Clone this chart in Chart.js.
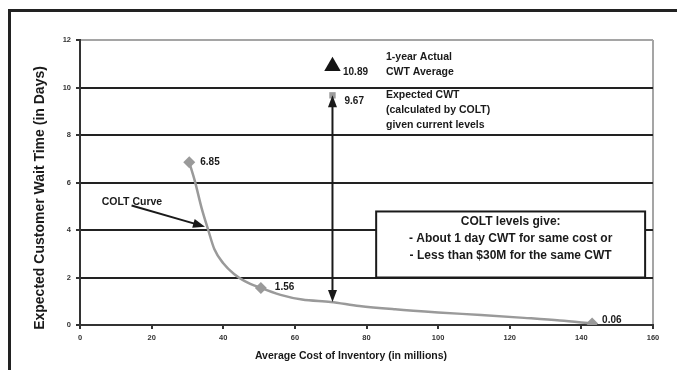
<!DOCTYPE html>
<html>
<head>
<meta charset="utf-8">
<script src="https://cdn.jsdelivr.net/npm/chart.js@4"></script>
<style>
  html, body { margin: 0; padding: 0; background: #fff; }
  canvas { display: block; }
</style>
</head>
<body>
<canvas id="colt" width="677" height="370"></canvas>
<script>
// COLT curve: average inventory cost (millions) vs expected customer wait time (days)
const costM   = [30.5, 32, 34, 35.8, 37.5, 40, 43, 46, 50.5, 56, 62, 70, 78, 88, 100, 112, 124, 134, 143];
const cwtDays = [6.85, 6.1, 4.9, 4.0, 3.2, 2.6, 2.15, 1.85, 1.56, 1.27, 1.07, 0.97, 0.8, 0.66, 0.53, 0.42, 0.3, 0.19, 0.06];

// Labelled points on the curve
const markedCost = [30.5, 50.5, 143];
const markedCwt  = [6.85, 1.56, 0.06];

// Current operating level
const currentCost = 70.5;
const actualCwt   = 10.89;   // 1-year actual CWT average
const expectedCwt = 9.67;    // expected CWT from COLT at current levels

// Axis ticks
const xTicks = [0, 20, 40, 60, 80, 100, 120, 140, 160];
const yTicks = [0, 2, 4, 6, 8, 10, 12];

const FONT = '"Liberation Sans", Arial, Helvetica, sans-serif';
const INK = '#1a1a1a';
const CURVE = '#9a9a9a';

function head(ctx, x1, y1, x2, y2, headLen, headHalf) {
  const a = Math.atan2(y2 - y1, x2 - x1);
  const c = Math.cos(a), s = Math.sin(a);
  ctx.beginPath();
  ctx.moveTo(x2, y2);
  ctx.lineTo(x2 - headLen * c + headHalf * s, y2 - headLen * s - headHalf * c);
  ctx.lineTo(x2 - headLen * c - headHalf * s, y2 - headLen * s + headHalf * c);
  ctx.closePath();
  ctx.fill();
}

function shaft(ctx, x1, y1, x2, y2, trim1, trim2, width) {
  const a = Math.atan2(y2 - y1, x2 - x1);
  const c = Math.cos(a), s = Math.sin(a);
  ctx.lineWidth = width;
  ctx.beginPath();
  ctx.moveTo(x1 + trim1 * c, y1 + trim1 * s);
  ctx.lineTo(x2 - trim2 * c, y2 - trim2 * s);
  ctx.stroke();
}

const notes = {
  id: 'notes',
  beforeDraw(chart) {
    const { ctx } = chart;
    ctx.save();
    ctx.strokeStyle = '#222';
    ctx.lineWidth = 3;
    ctx.beginPath();
    ctx.moveTo(9.5, 370);
    ctx.lineTo(9.5, 10.5);
    ctx.lineTo(677, 10.5);
    ctx.stroke();
    ctx.restore();
  },
  afterDatasetsDraw(chart) {
    const { ctx, scales: { x, y } } = chart;
    ctx.save();
    ctx.fillStyle = INK;
    ctx.strokeStyle = INK;

    // Summary box
    const bx1 = x.getPixelForValue(82.7), bx2 = x.getPixelForValue(157.8);
    const by1 = y.getPixelForValue(4.78), by2 = y.getPixelForValue(2);
    ctx.fillStyle = '#fff';
    ctx.fillRect(bx1, by1, bx2 - bx1, by2 - by1);
    ctx.lineWidth = 2;
    ctx.strokeRect(bx1, by1, bx2 - bx1, by2 - by1);
    ctx.fillStyle = INK;
    ctx.font = 'bold 12px ' + FONT;
    ctx.textAlign = 'center';
    ctx.textBaseline = 'middle';
    const bcx = (bx1 + bx2) / 2;
    ctx.fillText('COLT levels give:', bcx, by1 + 10.5);
    ctx.fillText('- About 1 day CWT for same cost or', bcx, by1 + 27.5);
    ctx.fillText('- Less than $30M for the same CWT', bcx, by1 + 44.5);

    // Double-headed arrow between expected CWT and the curve
    const ax = x.getPixelForValue(currentCost);
    const aTop = y.getPixelForValue(expectedCwt);
    const aBot = y.getPixelForValue(cwtDays[costM.indexOf(70)]);
    shaft(ctx, ax, aTop, ax, aBot, 11, 11, 2);
    head(ctx, ax, aBot, ax, aTop, 12, 4.5);
    head(ctx, ax, aTop, ax, aBot, 12, 4.5);

    // Pointer to the curve
    const cx1 = x.getPixelForValue(14.4), cy1 = y.getPixelForValue(5.03);
    const cx2 = x.getPixelForValue(34.9), cy2 = y.getPixelForValue(4.14);
    shaft(ctx, cx1, cy1, cx2, cy2, 0, 11, 2);
    head(ctx, cx1, cy1, cx2, cy2, 12, 4.5);
    ctx.font = 'bold 10.5px ' + FONT;
    ctx.textAlign = 'left';
    ctx.fillText('COLT Curve', x.getPixelForValue(6.06), y.getPixelForValue(5.19));

    // Value labels
    ctx.font = 'bold 10px ' + FONT;
    const offs = [[11, 0], [14, -1], [10, -3.5]];
    markedCost.forEach((c, i) => {
      ctx.fillText(markedCwt[i].toFixed(2), x.getPixelForValue(c) + offs[i][0], y.getPixelForValue(markedCwt[i]) + offs[i][1]);
    });
    ctx.fillText(actualCwt.toFixed(2), ax + 10.5, y.getPixelForValue(actualCwt) + 5.5);
    ctx.fillText(expectedCwt.toFixed(2), ax + 12, y.getPixelForValue(expectedCwt) + 6);

    // Descriptions of the two markers
    ctx.font = 'bold 10.5px ' + FONT;
    const tx = ax + 53.5;
    ctx.fillText('1-year Actual', tx, 57);
    ctx.fillText('CWT Average', tx, 72);
    ctx.fillText('Expected CWT', tx, 95);
    ctx.fillText('(calculated by COLT)', tx, 110);
    ctx.fillText('given current levels', tx, 125);

    // Axis titles
    ctx.textAlign = 'center';
    ctx.font = 'bold 10.5px ' + FONT;
    ctx.fillText('Average Cost of Inventory (in millions)', 351, 356.5);
    ctx.save();
    ctx.translate(40, 198);
    ctx.rotate(-Math.PI / 2);
    ctx.font = 'bold 14px ' + FONT;
    ctx.fillText('Expected Customer Wait Time (in Days)', 0, 0);
    ctx.restore();

    ctx.restore();
  }
};

new Chart(document.getElementById('colt'), {
  type: 'scatter',
  data: {
    datasets: [
      {
        label: 'Expected CWT',
        data: [{ x: currentCost, y: expectedCwt }],
        pointStyle: 'rect',
        pointRadius: 4.5,
        backgroundColor: CURVE,
        borderWidth: 0,
        order: 1
      },
      {
        label: '1-year Actual CWT Average',
        data: [{ x: currentCost, y: actualCwt }],
        pointStyle: 'triangle',
        pointRadius: 9.5,
        backgroundColor: '#151515',
        borderWidth: 0,
        order: 1
      },
      {
        label: 'COLT points',
        data: markedCost.map((c, i) => ({ x: c, y: markedCwt[i] })),
        pointStyle: 'rectRot',
        pointRadius: 6,
        backgroundColor: CURVE,
        borderWidth: 0,
        order: 1
      },
      {
        label: 'COLT Curve',
        data: costM.map((c, i) => ({ x: c, y: cwtDays[i] })),
        showLine: true,
        cubicInterpolationMode: 'monotone',
        borderColor: CURVE,
        borderWidth: 2.5,
        pointRadius: 0,
        order: 2
      }
    ]
  },
  options: {
    responsive: false,
    animation: false,
    layout: { padding: { left: 0, top: 40, right: 24, bottom: 0 } },
    plugins: { legend: { display: false }, tooltip: { enabled: false } },
    scales: {
      x: {
        type: 'linear',
        min: 0, max: 160,
        afterBuildTicks: s => { s.ticks = xTicks.map(v => ({ value: v })); },
        afterFit: s => { s.height = 45; },
        border: { color: '#333', width: 2 },
        grid: {
          color: c => (c.tick && c.tick.value === 160 ? '#a5a5a5' : 'rgba(0,0,0,0)'),
          lineWidth: 2,
          tickColor: '#333',
          tickLength: 4
        },
        ticks: {
          color: '#333',
          padding: 4,
          maxRotation: 0,
          font: { family: FONT, size: 7.5, weight: 'bold' }
        }
      },
      y: {
        type: 'linear',
        min: 0, max: 12,
        afterBuildTicks: s => { s.ticks = yTicks.map(v => ({ value: v })); },
        afterFit: s => { s.width = 80; },
        border: { color: '#333', width: 2 },
        grid: {
          color: c => {
            const v = c.tick && c.tick.value;
            if (v === 12) return '#a5a5a5';
            if (v === 0) return 'rgba(0,0,0,0)';
            return '#222';
          },
          lineWidth: 2,
          tickColor: '#333',
          tickLength: 4
        },
        ticks: {
          color: '#333',
          padding: 5,
          font: { family: FONT, size: 7.5, weight: 'bold' }
        }
      }
    }
  },
  plugins: [notes]
});
</script>
</body>
</html>
